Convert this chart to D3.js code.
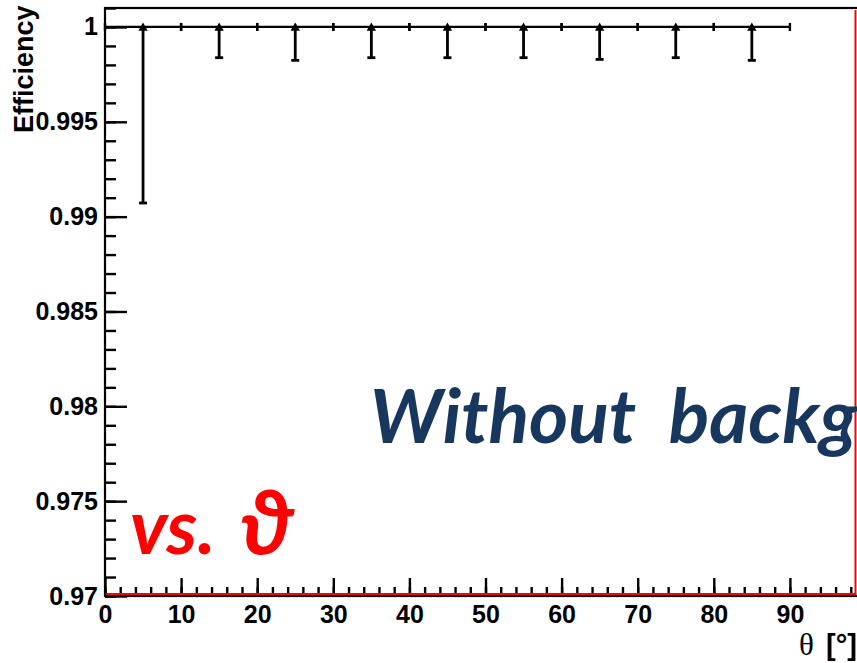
<!DOCTYPE html>
<html>
<head>
<meta charset="utf-8">
<script src="https://cdn.jsdelivr.net/npm/d3@7"></script>
<style>
  html, body { margin: 0; padding: 0; background: #fff; overflow: hidden; }
  svg { display: block; }
</style>
</head>
<body>
<svg id="chart" width="857" height="663"></svg>
<script>
// Efficiency per theta bin (bin width 10 degrees)
const thetaCenters = [5, 15, 25, 35, 45, 55, 65, 75, 85];
const efficiency   = [1, 1, 1, 1, 1, 1, 1, 1, 1];
const errLow       = [0.00928, 0.00162, 0.00176, 0.00162, 0.00162, 0.00162, 0.00171, 0.00162, 0.00176];
const errHigh      = [0, 0, 0, 0, 0, 0, 0, 0, 0];
const binHalfWidth = 5;

const yMajorTicks = [0.97, 0.975, 0.98, 0.985, 0.99, 0.995, 1];
const yTickLabels = ["0.97", "0.975", "0.98", "0.985", "0.99", "0.995", "1"];
const xMajorTicks = [0, 10, 20, 30, 40, 50, 60, 70, 80, 90];
const xTickLabels = ["0", "10", "20", "30", "40", "50", "60", "70", "80", "90"];

const xDomain = [0, 100];
const yDomain = [0.97, 1.001];

const svg = d3.select("#chart");
const plotLeft = 105, plotRight = 866, plotTop = 8, plotBottom = 596;

const x = d3.scaleLinear().domain(xDomain).range([plotLeft, plotRight]);
const y = d3.scaleLinear().domain(yDomain).range([plotBottom, plotTop]);

const tickFont = "'Liberation Sans', Arial, Helvetica, sans-serif";

// minor ticks
const yMinor = d3.range(0.97, 1.0011, 0.001).filter(v => v <= yDomain[1]);
const xMinor = d3.range(0, 100.01, 2);

svg.append("g")
  .attr("transform", `translate(${plotLeft},0)`)
  .call(d3.axisLeft(y).tickValues(yMinor).tickSize(-11).tickFormat(""))
  .call(g => g.select(".domain").remove())
  .call(g => g.selectAll("line").attr("stroke", "#000").attr("stroke-width", 2.4));

svg.append("g")
  .attr("transform", `translate(0,${plotBottom})`)
  .call(d3.axisBottom(x).tickValues(xMinor).tickSize(-9).tickFormat(""))
  .call(g => g.select(".domain").remove())
  .call(g => g.selectAll("line").attr("stroke", "#000").attr("stroke-width", 2.4));

// major ticks with labels
svg.append("g")
  .attr("transform", `translate(${plotLeft},0)`)
  .call(d3.axisLeft(y).tickValues(yMajorTicks).tickSize(-22).tickPadding(7)
        .tickFormat((d, i) => yTickLabels[i]))
  .call(g => g.select(".domain").remove())
  .call(g => g.selectAll("line").attr("stroke", "#000").attr("stroke-width", 2.4))
  .call(g => g.selectAll("text").attr("fill", "#000")
        .style("font", `bold 25px ${tickFont}`));

svg.append("g")
  .attr("transform", `translate(0,${plotBottom})`)
  .call(d3.axisBottom(x).tickValues(xMajorTicks).tickSize(-18).tickPadding(9)
        .tickFormat((d, i) => xTickLabels[i]))
  .call(g => g.select(".domain").remove())
  .call(g => g.selectAll("line").attr("stroke", "#000").attr("stroke-width", 2.4))
  .call(g => g.selectAll("text").attr("fill", "#000")
        .style("font", `bold 25px ${tickFont}`));

// frame
svg.append("rect")
  .attr("x", plotLeft).attr("y", plotTop)
  .attr("width", plotRight - plotLeft).attr("height", plotBottom - plotTop)
  .attr("fill", "none").attr("stroke", "#000").attr("stroke-width", 2.2);

// red outline along the bottom and right
svg.append("path")
  .attr("d", `M${plotLeft + 1},${plotBottom - 2} H855.5 V10`)
  .attr("fill", "none").attr("stroke", "#ff0000").attr("stroke-width", 2);

// data: horizontal bin bars with end caps
const pts = thetaCenters.map((t, i) => ({ t, v: efficiency[i], lo: errLow[i], hi: errHigh[i] }));
const g = svg.append("g");

g.selectAll("line.hbar").data(pts).join("line")
  .attr("class", "hbar")
  .attr("x1", d => x(d.t - binHalfWidth)).attr("x2", d => x(d.t + binHalfWidth))
  .attr("y1", d => y(d.v)).attr("y2", d => y(d.v))
  .attr("stroke", "#000").attr("stroke-width", 2.2);

const capsX = [];
pts.forEach(d => { capsX.push({ t: d.t - binHalfWidth, v: d.v }); capsX.push({ t: d.t + binHalfWidth, v: d.v }); });
g.selectAll("line.hcap").data(capsX).join("line")
  .attr("class", "hcap")
  .attr("x1", d => x(d.t)).attr("x2", d => x(d.t))
  .attr("y1", d => y(d.v) - 4).attr("y2", d => y(d.v) + 4)
  .attr("stroke", "#000").attr("stroke-width", 2.4);

// vertical error bars
g.selectAll("line.vbar").data(pts).join("line")
  .attr("class", "vbar")
  .attr("x1", d => x(d.t)).attr("x2", d => x(d.t))
  .attr("y1", d => y(d.v + d.hi)).attr("y2", d => y(d.v - d.lo))
  .attr("stroke", "#000").attr("stroke-width", 2.8);

g.selectAll("line.vcap").data(pts).join("line")
  .attr("class", "vcap")
  .attr("x1", d => x(d.t) - 4).attr("x2", d => x(d.t) + 4)
  .attr("y1", d => y(d.v - d.lo)).attr("y2", d => y(d.v - d.lo))
  .attr("stroke", "#000").attr("stroke-width", 2.8);

// markers
g.selectAll("path.marker").data(pts).join("path")
  .attr("class", "marker")
  .attr("transform", d => `translate(${x(d.t)},${y(d.v) + 1})`)
  .attr("d", d3.symbol().type(d3.symbolTriangle).size(38))
  .attr("fill", "#000");

// axis titles
svg.append("text")
  .attr("transform", "translate(33,133) rotate(-90)")
  .attr("text-anchor", "start")
  .style("font", `bold 27px ${tickFont}`)
  .attr("fill", "#000")
  .text("Efficiency");

const xt = svg.append("text")
  .attr("x", 799).attr("y", 655)
  .attr("fill", "#000");
xt.append("tspan")
  .style("font", "31px 'Liberation Serif', 'DejaVu Serif', serif")
  .text("θ");
xt.append("tspan")
  .attr("x", 826)
  .style("font", `bold 29px ${tickFont}`)
  .text("[°]");

// annotations
svg.append("text")
  .attr("x", 370).attr("y", 443)
  .style("font", "italic bold 75px Lato, 'Open Sans', sans-serif")
  .style("word-spacing", "16px")
  .attr("fill", "#17375e")
  .text("Without background");

const vs = svg.append("text")
  .attr("x", 130).attr("y", 554)
  .attr("fill", "#ff0000")
  .style("font", "italic bold 76px Lato, 'Open Sans', 'DejaVu Sans', sans-serif");
vs.append("tspan").text("vs.");
vs.append("tspan")
  .attr("x", 240)
  .style("font-size", "88px")
  .text("ϑ");
</script>
</body>
</html>
